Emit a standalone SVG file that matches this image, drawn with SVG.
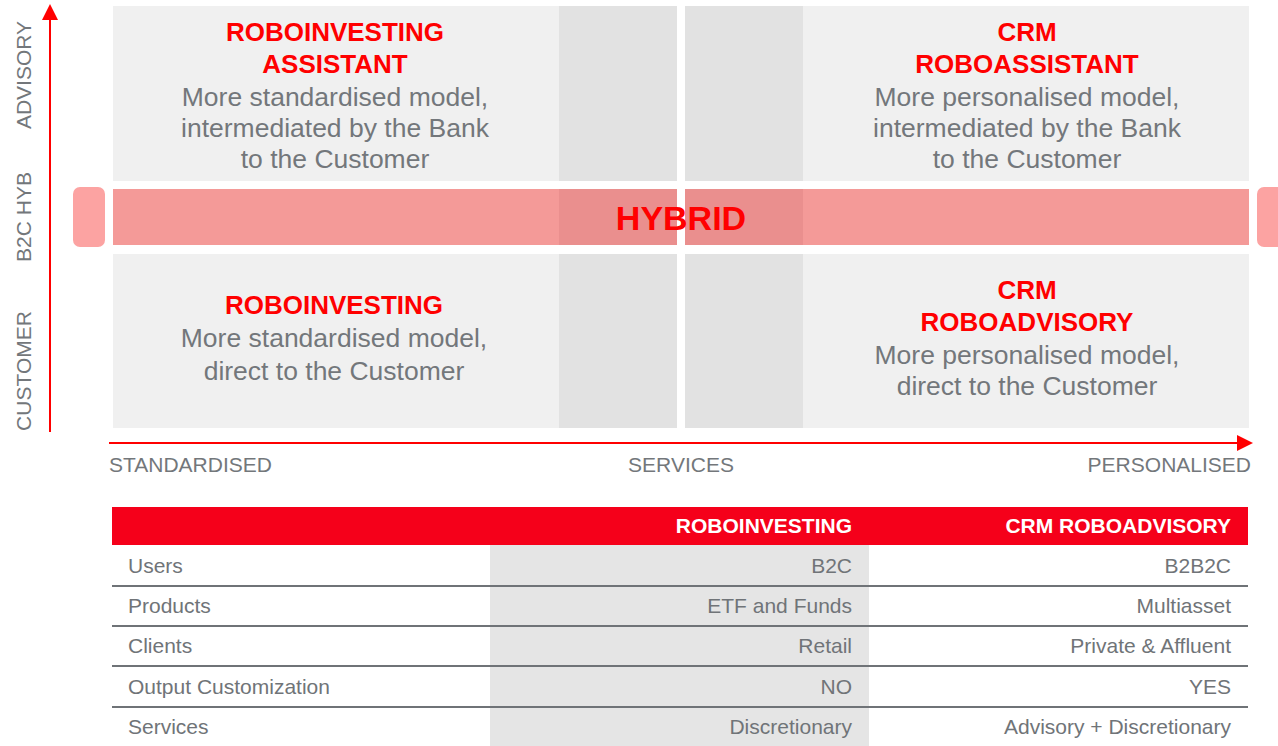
<svg xmlns="http://www.w3.org/2000/svg" width="1278" height="746" viewBox="0 0 1278 746">
<defs>
<style>
.cell{fill:#f0f0f0}
.mid{fill:#e2e2e2}
.hyb{fill:#f49a98}
.hybmid{fill:#ea8f8e}
.cap{fill:#fca3a2}
.ttl{font-family:"Liberation Sans",Arial,sans-serif;font-weight:bold;font-size:26px;fill:#ff0000;text-anchor:middle}
.body{font-family:"Liberation Sans",Arial,sans-serif;font-size:26.5px;fill:#73777b;text-anchor:middle}
.axis{font-family:"Liberation Sans",Arial,sans-serif;font-size:21px;fill:#73777b}
.th{font-family:"Liberation Sans",Arial,sans-serif;font-weight:bold;font-size:21px;fill:#ffffff;text-anchor:end}
.td{font-family:"Liberation Sans",Arial,sans-serif;font-size:21px;fill:#707478}
.tr{text-anchor:end}
.sep{stroke:#6f7377;stroke-width:2}
</style>
<marker id="ah" viewBox="0 0 16 16" refX="0" refY="8" markerWidth="16" markerHeight="16" markerUnits="userSpaceOnUse" orient="auto">
<path d="M0,0 L16,8 L0,16 Z" fill="#ff0000"/>
</marker>
</defs>

<g id="background">
<rect class="cell" x="113" y="6" width="446" height="175"/>
<rect class="mid" x="559" y="6" width="118" height="175"/>
<rect class="mid" x="685" y="6" width="118" height="175"/>
<rect class="cell" x="803" y="6" width="446" height="175"/>
<rect class="cell" x="113" y="254" width="446" height="174"/>
<rect class="mid" x="559" y="254" width="118" height="174"/>
<rect class="mid" x="685" y="254" width="118" height="174"/>
<rect class="cell" x="803" y="254" width="446" height="174"/>
</g>

<g id="hybrid">
<rect class="cap" x="73" y="187" width="32" height="60" rx="7"/>
<rect class="hyb" x="113" y="189" width="446" height="56"/>
<rect class="hybmid" x="559" y="189" width="118" height="56"/>
<rect class="hybmid" x="685" y="189" width="118" height="56"/>
<rect class="hyb" x="803" y="189" width="446" height="56"/>
<rect class="cap" x="1257" y="187" width="32" height="60" rx="7"/>
<text x="681" y="230" font-family="Liberation Sans, Arial, sans-serif" font-weight="bold" font-size="34" fill="#ff0000" text-anchor="middle">HYBRID</text>
</g>

<g id="roboinvesting-assistant">
<text class="ttl" x="335" y="41">ROBOINVESTING</text>
<text class="ttl" x="335" y="73">ASSISTANT</text>
<text class="body" x="335" y="106">More standardised model,</text>
<text class="body" x="335" y="137">intermediated by the Bank</text>
<text class="body" x="335" y="168">to the Customer</text>
</g>

<g id="crm-roboassistant">
<text class="ttl" x="1027" y="41">CRM</text>
<text class="ttl" x="1027" y="73">ROBOASSISTANT</text>
<text class="body" x="1027" y="106">More personalised model,</text>
<text class="body" x="1027" y="137">intermediated by the Bank</text>
<text class="body" x="1027" y="168">to the Customer</text>
</g>

<g id="roboinvesting">
<text class="ttl" x="334" y="314">ROBOINVESTING</text>
<text class="body" x="334" y="347">More standardised model,</text>
<text class="body" x="334" y="380">direct to the Customer</text>
</g>

<g id="crm-roboadvisory">
<text class="ttl" x="1027" y="299">CRM</text>
<text class="ttl" x="1027" y="331">ROBOADVISORY</text>
<text class="body" x="1027" y="364">More personalised model,</text>
<text class="body" x="1027" y="395">direct to the Customer</text>
</g>

<g id="axes">
<line x1="50" y1="432" x2="50" y2="20" stroke="#ff0000" stroke-width="2" marker-end="url(#ah)"/>
<line x1="109" y1="443" x2="1237" y2="443" stroke="#ff0000" stroke-width="2" marker-end="url(#ah)"/>
<text class="axis" transform="translate(31,75) rotate(-90)" text-anchor="middle">ADVISORY</text>
<text class="axis" transform="translate(31,217) rotate(-90)" text-anchor="middle">B2C HYB</text>
<text class="axis" transform="translate(31,371) rotate(-90)" text-anchor="middle">CUSTOMER</text>
<text class="axis" x="109" y="472">STANDARDISED</text>
<text class="axis" x="681" y="472" text-anchor="middle">SERVICES</text>
<text class="axis" x="1251" y="472" text-anchor="end">PERSONALISED</text>
</g>

<g id="table">
<rect x="112" y="507" width="1136" height="38" fill="#f5001a"/>
<rect x="490" y="545" width="379" height="201" fill="#e5e5e5"/>
<text class="th" x="852" y="533">ROBOINVESTING</text>
<text class="th" x="1231" y="533">CRM ROBOADVISORY</text>
<line class="sep" x1="112" y1="586" x2="1248" y2="586"/>
<line class="sep" x1="112" y1="626" x2="1248" y2="626"/>
<line class="sep" x1="112" y1="666" x2="1248" y2="666"/>
<line class="sep" x1="112" y1="707" x2="1248" y2="707"/>
<text class="td" x="128" y="573">Users</text>
<text class="td tr" x="852" y="573">B2C</text>
<text class="td tr" x="1231" y="573">B2B2C</text>
<text class="td" x="128" y="613">Products</text>
<text class="td tr" x="852" y="613">ETF and Funds</text>
<text class="td tr" x="1231" y="613">Multiasset</text>
<text class="td" x="128" y="653">Clients</text>
<text class="td tr" x="852" y="653">Retail</text>
<text class="td tr" x="1231" y="653">Private &amp; Affluent</text>
<text class="td" x="128" y="694">Output Customization</text>
<text class="td tr" x="852" y="694">NO</text>
<text class="td tr" x="1231" y="694">YES</text>
<text class="td" x="128" y="734">Services</text>
<text class="td tr" x="852" y="734">Discretionary</text>
<text class="td tr" x="1231" y="734">Advisory + Discretionary</text>
</g>
</svg>
